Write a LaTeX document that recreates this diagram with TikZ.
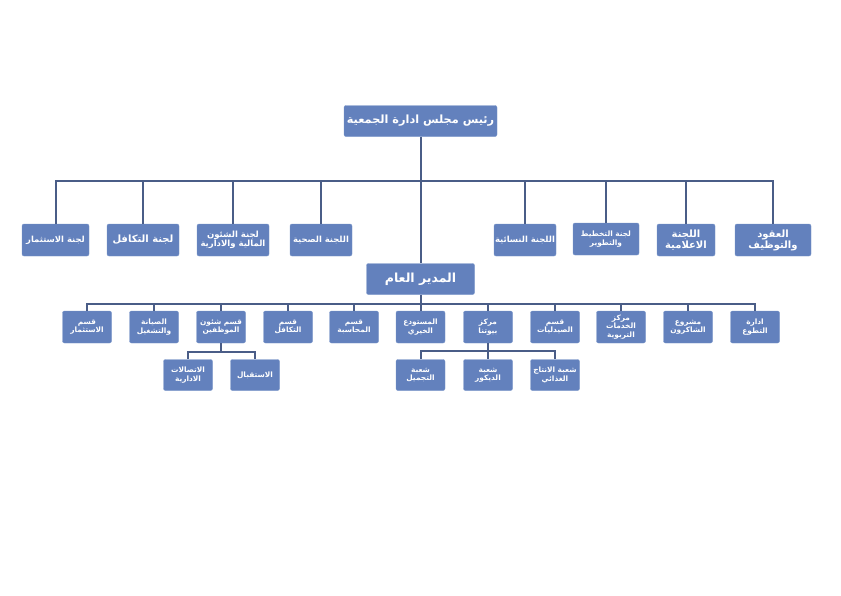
\documentclass[tikz,border=0pt]{standalone}
\usepackage{fontspec}
\newfontfamily\arabicfont[Script=Arabic]{DejaVu Sans}
\TeXXeTstate=1
\newcommand{\ar}[1]{\beginR #1\endR}
\definecolor{boxfill}{RGB}{99,129,189}
\definecolor{boxedge}{RGB}{120,148,200}
\definecolor{linecol}{RGB}{74,93,135}

\begin{document}
\begin{tikzpicture}[x=1pt, y=-1pt,
    box/.style={draw=boxedge, fill=boxfill, rounded corners=2pt, text=white, align=center, inner sep=1pt, font=\arabicfont\bfseries\fontsize{8.4}{9.5}\selectfont, minimum height=32pt},
    headbox/.style={box, font=\arabicfont\bfseries\fontsize{12.5}{14}\selectfont, minimum height=31pt},
    depbox/.style={box, font=\arabicfont\bfseries\fontsize{7.4}{8.2}\selectfont, minimum width=49pt, minimum height=32pt, text width=47pt},
    link/.style={draw=linecol, line width=2pt}]
    \useasboundingbox (0, 0) rectangle (841, 595);

    % chairman and general manager
    \node[headbox, minimum width=153pt, font=\arabicfont\bfseries\fontsize{11.3}{13}\selectfont] (chair) at (420.5, 121) {\ar{رئيس مجلس ادارة الجمعية}};
    \node[headbox, minimum width=108pt] (gm) at (420.5, 279) {\ar{المدير العام}};

    % committees
    \node[box, minimum width=67pt] (com1) at (55.5, 240) {\ar{لجنة الاستثمار}};
    \node[box, minimum width=72pt, font=\arabicfont\bfseries\fontsize{10}{11}\selectfont] (com2) at (143, 240) {\ar{لجنة التكافل}};
    \node[box, minimum width=72pt, font=\arabicfont\bfseries\fontsize{8.5}{8.8}\selectfont] (com3) at (233, 240) {\ar{لجنة الشئون}\\\ar{المالية والادارية}};
    \node[box, minimum width=62pt] (com4) at (321, 240) {\ar{اللجنة الصحية}};
    \node[box, minimum width=62pt] (com5) at (525, 240) {\ar{اللجنة النسائية}};
    \node[box, minimum width=66pt, font=\arabicfont\bfseries\fontsize{7.4}{8.2}\selectfont] (com6) at (606, 239) {\ar{لجنة التخطيط}\\\ar{والتطوير}};
    \node[box, minimum width=58pt, font=\arabicfont\bfseries\fontsize{10}{11}\selectfont] (com7) at (686, 240) {\ar{اللجنة}\\\ar{الاعلامية}};
    \node[box, minimum width=76pt, font=\arabicfont\bfseries\fontsize{10}{11}\selectfont] (com8) at (773, 240) {\ar{العقود}\\\ar{والتوظيف}};

    % departments
    \node[depbox] (dep1) at (87, 327) {\ar{قسم}\\\ar{الاستثمار}};
    \node[depbox] (dep2) at (154, 327) {\ar{الصيانة}\\\ar{والتشغيل}};
    \node[depbox] (dep3) at (221, 327) {\ar{قسم شئون}\\\ar{الموظفين}};
    \node[depbox] (dep4) at (288, 327) {\ar{قسم}\\\ar{التكافل}};
    \node[depbox] (dep5) at (354, 327) {\ar{قسم}\\\ar{المحاسبة}};
    \node[depbox] (dep6) at (420.5, 327) {\ar{المستودع}\\\ar{الخيري}};
    \node[depbox] (dep7) at (488, 327) {\ar{مركز}\\\ar{بيوتنا}};
    \node[depbox] (dep8) at (555, 327) {\ar{قسم}\\\ar{الصيدليات}};
    \node[depbox] (dep9) at (621, 327) {\ar{مركز}\\\ar{الخدمات}\\\ar{التربوية}};
    \node[depbox] (dep10) at (688, 327) {\ar{مشروع}\\\ar{الشاكرون}};
    \node[depbox] (dep11) at (755, 327) {\ar{ادارة}\\\ar{التطوع}};

    % sections
    \node[depbox, minimum height=31pt] (sec1) at (188, 375) {\ar{الاتصالات}\\\ar{الادارية}};
    \node[depbox, minimum height=31pt] (sec2) at (255, 375) {\ar{الاستقبال}};
    \node[depbox, minimum height=31pt] (sec3) at (420.5, 375) {\ar{شعبة}\\\ar{التجميل}};
    \node[depbox, minimum height=31pt] (sec4) at (488, 375) {\ar{شعبة}\\\ar{الديكور}};
    \node[depbox, minimum height=31pt] (sec5) at (555, 375) {\ar{شعبة الانتاج}\\\ar{الغذائي}};

    \coordinate (combus) at (420.5, 180.5);
    \coordinate (depbus) at (420.5, 304);
    \coordinate (hrbus) at (221, 352);
    \coordinate (homebus) at (488, 351);

    \draw[link] (chair.south) -- (gm.north);
    \foreach \n in {com1, com2, com3, com4, com5, com6, com7, com8}
        \draw[link] (combus) -| (\n.north);
    \draw[link] (gm.south) -- (depbus);
    \foreach \n in {dep1, dep2, dep3, dep4, dep5, dep6, dep7, dep8, dep9, dep10, dep11}
        \draw[link] (depbus) -| (\n.north);
    \draw[link] (dep3.south) -- (hrbus);
    \foreach \n in {sec1, sec2}
        \draw[link] (hrbus) -| (\n.north);
    \draw[link] (dep7.south) -- (homebus);
    \foreach \n in {sec3, sec4, sec5}
        \draw[link] (homebus) -| (\n.north);

\end{tikzpicture}
\end{document}
